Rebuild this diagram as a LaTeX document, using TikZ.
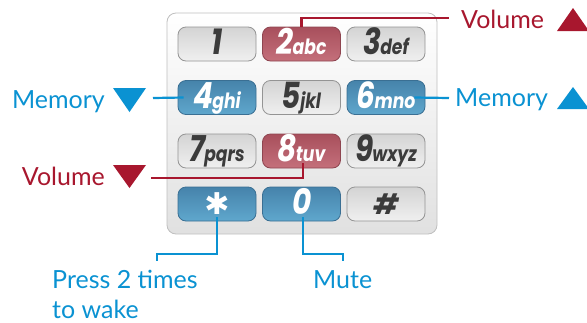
\documentclass[tikz,border=0pt]{standalone}
\usepackage{fontspec}
\setmainfont{Lato}
\newfontfamily\keyfont{Poppins}
\newfontfamily\symfont{DejaVu Sans}
\usetikzlibrary{positioning}

\definecolor{memblue}{HTML}{0A92D2}
\definecolor{volred}{HTML}{A8172E}
\definecolor{keytext}{HTML}{3B3B3B}
\definecolor{bluetop}{HTML}{4683AB}
\definecolor{bluebot}{HTML}{5FA7CD}
\definecolor{blueedge}{HTML}{3A6F93}
\definecolor{redtop}{HTML}{A84F5C}
\definecolor{redbot}{HTML}{C4707B}
\definecolor{rededge}{HTML}{8E4550}

\tikzset{
  key/.style={draw, rounded corners=8pt, minimum width=78pt, minimum height=34pt,
    inner sep=0pt, text height=21pt, text depth=0pt, line width=0.8pt,
    font=\keyfont\bfseries\itshape},
  graykey/.style={key, draw=black!42, top color=black!17, bottom color=black!6, text=keytext},
  redkey/.style={key, draw=rededge, top color=redtop, bottom color=redbot, text=white},
  bluekey/.style={key, draw=blueedge, top color=bluetop, bottom color=bluebot, text=white},
  lbl/.style={inner sep=0pt, font=\fontsize{25}{30}\selectfont},
  blueline/.style={memblue, line width=2.2pt},
  redline/.style={volred, line width=2.2pt},
}
\newcommand{\keynum}[2]{\scalebox{0.82}[1]{{\fontsize{36}{36}\selectfont #1}\kern-1pt{\fontsize{21}{21}\selectfont #2}}}

\begin{document}
\begin{tikzpicture}[x=1pt,y=-1pt]
  \useasboundingbox (0,0) rectangle (587,322);
  % keypad
  \node[draw=black!25, line width=0.8pt, rounded corners=9pt, top color=white, bottom color=black!12,
    minimum width=270pt, minimum height=221pt] (pad) at (302,123.5) {};
  \node[graykey] (k1) at (217,44) {\keynum{1}{}};
  \node[redkey] (k2) at (301.5,44) {\keynum{2}{abc}};
  \node[graykey] (k3) at (386,44) {\keynum{3}{def}};
  \node[bluekey] (k4) at (217,97.5) {\keynum{4}{ghi}};
  \node[graykey] (k5) at (301.5,97.5) {\keynum{5}{jkl}};
  \node[bluekey] (k6) at (386,97.5) {\keynum{6}{mno}};
  \node[graykey] (k7) at (217,151) {\keynum{7}{pqrs}};
  \node[redkey] (k8) at (301.5,151) {\keynum{8}{tuv}};
  \node[graykey] (k9) at (386,151) {\keynum{9}{wxyz}};
  \node[bluekey] (kstar) at (217,204) {\symfont\bfseries\fontsize{30}{30}\selectfont ✱};
  \node[bluekey] (k0) at (301.5,204) {\keynum{0}{}};
  \node[graykey] (khash) at (386,204) {\fontsize{28}{28}\selectfont\#};

  % labels
  \node[lbl, text=volred, anchor=base west] (volup) at (461,28) {Volume};
  \fill[volred] (557,31) -- (589,31) -- (573,8) -- cycle;
  \node[lbl, text=memblue, anchor=base west] (memup) at (455,106) {Memory};
  \fill[memblue] (557,109) -- (589,109) -- (573,87) -- cycle;
  \node[lbl, text=memblue, anchor=base east] (memdn) at (105,108) {Memory};
  \fill[memblue] (113,88) -- (146,88) -- (129.5,112) -- cycle;
  \node[lbl, text=volred, anchor=base east] (voldn) at (105,185) {Volume};
  \fill[volred] (113,165) -- (146,165) -- (129.5,188) -- cycle;
  \node[lbl, text=memblue, anchor=base west] (press) at (52,288) {Press 2 times};
  \node[lbl, text=memblue, anchor=base west] (wake) at (52,318) {to wake};
  \node[lbl, text=memblue, anchor=base west] (mute) at (313,288) {Mute};

  % connectors
  \coordinate (volupend) at (449,18);
  \coordinate (memupend) at (449,98);
  \coordinate (memdnend) at (153,98);
  \coordinate (voldnend) at (151,178);
  \coordinate (wakeend) at (157,254);
  \coordinate (muteend) at (343,254);
  \draw[redline] (k2.north) |- (volupend);
  \draw[blueline] ([xshift=-11pt]k6.east) -- (memupend);
  \draw[blueline] (memdnend) -- ([xshift=6pt]k4.west);
  \draw[redline] (voldnend) -| ([xshift=1.5pt,yshift=5pt]k8.south);
  \draw[blueline] ([yshift=4pt]kstar.south) |- (wakeend) -- ++(0,7);
  \draw[blueline] ([xshift=1.5pt,yshift=4pt]k0.south) |- (muteend) -- ++(0,7);
\end{tikzpicture}
\end{document}
